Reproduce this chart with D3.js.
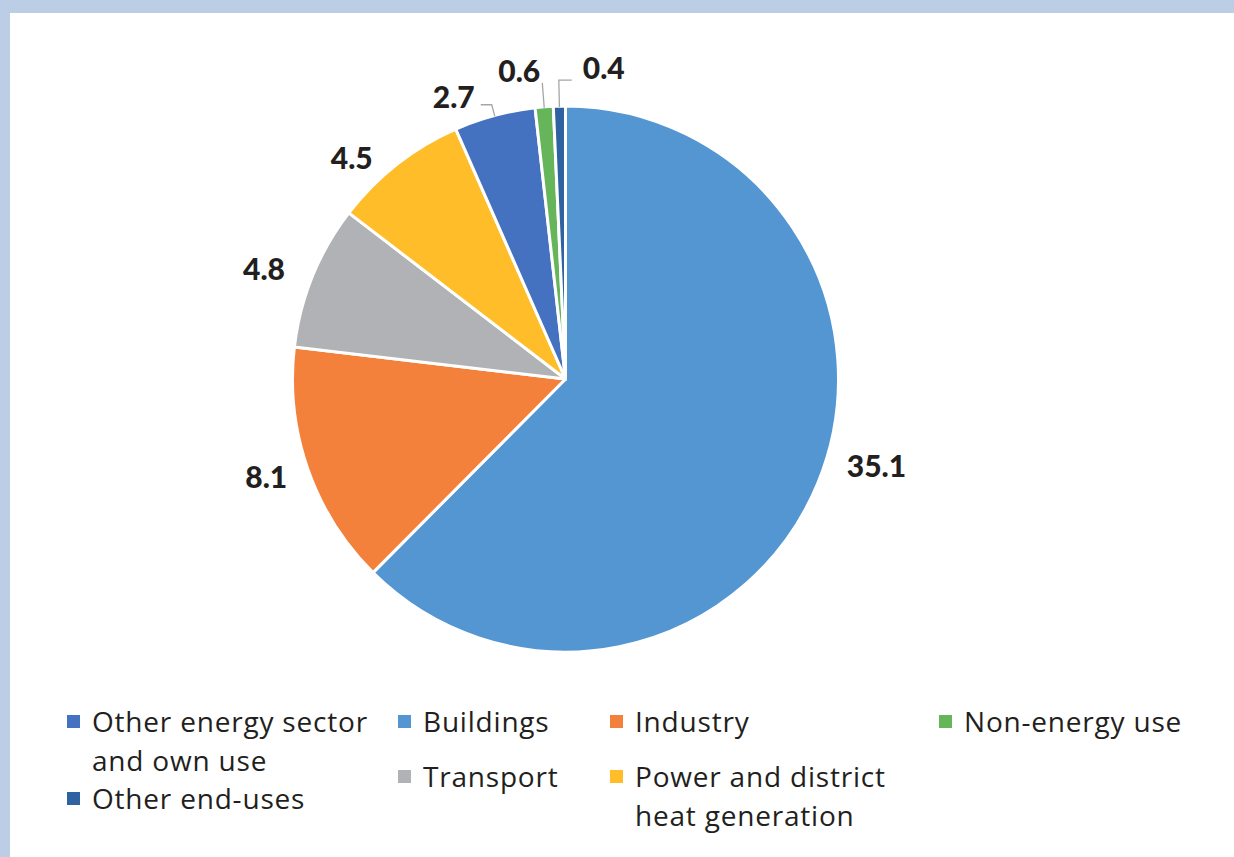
<!DOCTYPE html>
<html>
<head>
<meta charset="utf-8">
<script src="https://cdn.jsdelivr.net/npm/d3@7"></script>
<style>
  html, body { margin: 0; padding: 0; background: #bbcee6; }
  svg { display: block; }
  text { font-family: Lato, "Noto Sans", sans-serif; fill: #231f20; font-variant-ligatures: none; }
  .legend text { font-family: "Open Sans", "Noto Sans", sans-serif; letter-spacing: 0.8px; }
</style>
</head>
<body>
<svg id="chart" width="1234" height="857"></svg>
<script>
// slices in clockwise order from 12 o'clock
const categories = ["Buildings", "Industry", "Transport", "Power and district heat generation",
  "Other energy sector and own use", "Non-energy use", "Other end-uses"];
const values = [35.1, 8.1, 4.8, 4.5, 2.7, 0.6, 0.4];
const colors = ["#5396d2", "#f4813b", "#b1b2b5", "#ffbd29", "#4571c1", "#67b55b", "#2e62a0"];

// legend entries, as laid out in the reference (column by column)
const legendColumns = [
  [["Other energy sector", "and own use"], ["Other end-uses"]],
  [["Buildings"], ["Transport"]],
  [["Industry"], ["Power and district", "heat generation"]],
  [["Non-energy use"]]
];

const W = 1234, H = 857;
const cx = 565.5, cy = 379, r = 273;

const svg = d3.select("#chart");

// white panel inside the blue frame
svg.append("rect")
  .attr("x", 10).attr("y", 13)
  .attr("width", W - 10).attr("height", H - 13)
  .attr("fill", "#fff");

const data = categories.map((c, i) => ({ name: c, value: values[i], color: colors[i] }));

const pie = d3.pie().value(d => d.value).sort(null);
const arcs = pie(data);
const arc = d3.arc().innerRadius(0).outerRadius(r);

const g = svg.append("g").attr("transform", `translate(${cx},${cy})`);

g.selectAll("path.slice")
  .data(arcs)
  .enter()
  .append("path")
  .attr("class", "slice")
  .attr("d", arc)
  .attr("fill", d => d.data.color)
  .attr("stroke", "#fff")
  .attr("stroke-width", 3)
  .attr("stroke-linejoin", "round");

const mid = d => (d.startAngle + d.endAngle) / 2;
const polar = (a, rad) => [Math.sin(a) * rad, -Math.cos(a) * rad];
const deg = Math.PI / 180;

// big slices: label centred outside the rim, with small best-fit nudges
const labelFont = 30;
const nudge = { "Buildings": [-6.7, 5], "Industry": [1, -3], "Transport": [-2, 3],
                "Power and district heat generation": [-6, -11] };
arcs.filter(d => d.data.value >= 3).forEach(d => {
  const [da, dr] = nudge[d.data.name] || [0, 0];
  const [px, py] = polar(mid(d) + da * deg, r + 45 + dr);
  g.append("text")
    .attr("font-size", labelFont)
    .attr("font-weight", 900)
    .attr("text-anchor", "middle")
    .attr("x", px)
    .attr("y", py + labelFont * 0.36)
    .text(d.data.value.toFixed(1));
});

// small slices: leader line, then label
// ext = radial extension, dir = horizontal elbow direction
const leaders = { "Other energy sector and own use": { ext: 12, dir: -1, run: 11 },
                  "Non-energy use": { ext: 25, dir: 0, run: 0 },
                  "Other end-uses": { ext: 27, dir: 1, run: 13 } };
arcs.filter(d => d.data.value < 3).forEach(d => {
  const a = mid(d);
  const L = leaders[d.data.name];
  const p0 = polar(a, r - 1);
  const p1 = polar(a, r - 1 + L.ext);
  const p2 = [p1[0] + L.dir * L.run, p1[1]];
  g.append("path")
    .attr("d", d3.line()([p0, p1, p2]))
    .attr("fill", "none")
    .attr("stroke", "#a6a6a6")
    .attr("stroke-width", 1.3);
  const t = g.append("text")
    .attr("font-size", labelFont)
    .attr("font-weight", 900)
    .text(d.data.value.toFixed(1));
  if (L.dir < 0) {
    t.attr("text-anchor", "end").attr("x", p2[0] - 6).attr("y", p2[1] + 3);
  } else if (L.dir > 0) {
    t.attr("text-anchor", "start").attr("x", p2[0] + 11).attr("y", p2[1] - 1);
  } else {
    t.attr("text-anchor", "end").attr("x", p2[0] - 2).attr("y", p2[1] - 1);
  }
});

// legend
const colX = [67, 398, 610, 939];
const rowY0 = 722, lineH = 38.5, rowGap = 55;
const legendFont = 28;
const colorOf = name => colors[categories.indexOf(name)];
const legend = svg.append("g").attr("class", "legend");
legendColumns.forEach((col, ci) => {
  let y = rowY0;
  col.forEach((lines, ri) => {
    if (ri > 0 && ci !== 0) y = rowY0 + rowGap;
    const full = lines.join(" ");
    legend.append("rect")
      .attr("x", colX[ci]).attr("y", y - 7)
      .attr("width", 13).attr("height", 13)
      .attr("fill", colorOf(full));
    lines.forEach((ln, li) => {
      legend.append("text")
        .attr("x", colX[ci] + 25)
        .attr("y", y + li * lineH + legendFont * 0.36)
        .attr("font-size", legendFont)
        .text(ln);
    });
    if (ci === 0) y += lines.length * lineH;
  });
});
</script>
</body>
</html>
